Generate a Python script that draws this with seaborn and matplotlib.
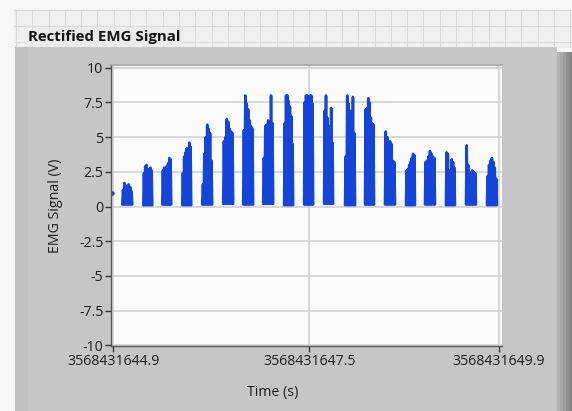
import numpy as np
import pandas as pd
import matplotlib
matplotlib.use("Agg")
import matplotlib.pyplot as plt
from matplotlib.patches import Rectangle
import seaborn as sns

sns.set_theme(style="white")
plt.rcParams["font.family"] = ["Open Sans", "DejaVu Sans"]

TITLE = "Rectified EMG Signal"
X_LABEL = "Time (s)"
Y_LABEL = "EMG Signal (V)"
# time axis in seconds after the first label
X_TICKS = [0.0, 2.54, 5.0]
X_TICK_LABELS = ["3568431644.9", "3568431647.5", "3568431649.9"]
Y_TICKS = [10, 7.5, 5, 2.5, 0, -2.5, -5, -7.5, -10]
Y_TICK_LABELS = ["10", "7.5", "5", "2.5", "0", "-2.5", "-5", "-7.5", "-10"]

# muscle bursts: start / end time (s) and the spike peaks of the rectified signal in each burst
burst_start = [0.117, 0.389, 0.635, 0.894, 1.153, 1.425, 1.684, 1.943, 2.215, 2.474,
               2.733, 3.005, 3.264, 3.523, 3.795, 4.041, 4.313, 4.573, 4.845]
burst_end = [0.246, 0.505, 0.751, 1.010, 1.282, 1.554, 1.813, 2.073, 2.332, 2.591,
             2.850, 3.135, 3.381, 3.653, 3.912, 4.171, 4.430, 4.702, 4.974]
burst_top = [
    [1.2, 1.7, 1.5, 1.3, 1.6, 1.4, 1.1],
    [2.4, 2.9, 3.0, 2.6, 2.7, 2.8, 2.6],
    [2.6, 2.8, 2.5, 2.9, 3.1, 3.5, 3.4],
    [2.4, 3.6, 3.9, 4.2, 3.8, 4.6, 4.3],
    [1.6, 3.8, 5.0, 5.9, 5.6, 5.3, 3.3],
    [4.7, 5.0, 6.3, 6.1, 5.6, 5.4, 5.3],
    [5.5, 8.0, 7.4, 7.0, 6.2, 5.8, 5.6],
    [3.5, 5.8, 5.9, 6.2, 5.6, 8.0, 6.0],
    [6.0, 8.0, 8.0, 7.6, 7.2, 6.5, 4.5],
    [7.5, 8.0, 8.0, 7.6, 8.0, 8.0, 7.4],
    [6.9, 8.0, 6.4, 5.5, 5.8, 7.1, 4.6],
    [3.6, 8.0, 7.4, 6.9, 5.8, 7.9, 5.3],
    [7.0, 7.1, 7.8, 7.5, 6.4, 6.0, 5.9],
    [5.4, 5.0, 4.4, 4.7, 4.5, 3.3, 3.2],
    [2.6, 2.7, 3.0, 3.2, 3.5, 3.8, 3.7],
    [3.2, 3.3, 3.6, 4.0, 3.8, 3.6, 3.5],
    [3.9, 3.8, 2.6, 2.5, 3.4, 3.2, 2.8],
    [4.4, 3.0, 2.5, 2.4, 2.6, 2.5, 2.4],
    [2.2, 3.0, 3.3, 3.5, 3.2, 2.8, 2.0],
]
burst_floor = [0.15, 0.1, 0.15, 0.1, 0.15, 0.2, 0.15, 0.2, 0.1, 0.15,
               0.2, 0.1, 0.15, 0.15, 0.1, 0.15, 0.1, 0.15, 0.1]
stray_t = [-0.02]
stray_v = [1.0]

BLUE = "#1545d8"
PANEL = "#c6c6c6"

# each burst drawn as a run of spikes: floor -> peak -> floor -> peak ...
rows = []
for i, (s, e, top) in enumerate(zip(burst_start, burst_end, burst_top)):
    fl = burst_floor[i]
    vals = [fl]
    for v in top:
        vals += [v, fl]
    for t, v in zip(np.linspace(s, e, len(vals)), vals):
        rows.append({"burst": i, "t": t, "v": v})
df = pd.DataFrame(rows)

W, H = 572, 411
fig = plt.figure(figsize=(W / 100, H / 100), dpi=100)
fig.patch.set_facecolor("#f7f7f7")


def box(x0, y0, x1, y1, color):
    fig.add_artist(Rectangle((x0 / W, 1 - y1 / H), (x1 - x0) / W, (y1 - y0) / H,
                             transform=fig.transFigure, facecolor=color,
                             edgecolor="none", zorder=0))


# front-panel grid strip
box(14, 10, W, 48, "#efefef")
for gx in np.arange(16, W, 16.3):
    box(gx, 10, gx + 1, 48, "#d9d9d9")
for gy in [10, 26, 42]:
    box(14, gy, W, gy + 1, "#d9d9d9")

# graph panel + shading on the right
box(15, 47, 557, H, PANEL)
box(15, 47, 28, H, "#c0c0c0")
for k, c in enumerate(["#b4b4b4", "#a8a8a8", "#9c9c9c", "#909090", "#868686"]):
    box(557 + k * 3, 52, 560 + k * 3 + 1, H, c)

fig.text(28 / W, 1 - 37 / H, TITLE, fontsize=10.8, fontweight="bold", color="#141414",
         va="center", ha="left",
         bbox=dict(facecolor="#ebebeb", edgecolor="none", pad=1.5))

ax = fig.add_axes([111 / W, 1 - 346 / H, (502 - 111) / W, (346 - 65) / H])
ax.set_facecolor("#fbfbfb")

sns.lineplot(data=df, x="t", y="v", units="burst", estimator=None, sort=False,
             color=BLUE, lw=1.9, ax=ax, legend=False)
ax.plot(stray_t, stray_v, "o", color=BLUE, ms=2.2)

ax.set_xlim(-0.03, 5.04)
ax.set_ylim(-10.05, 10.2)
ax.set_xticks(X_TICKS)
ax.set_xticklabels(X_TICK_LABELS)
ax.set_yticks(Y_TICKS)
ax.set_yticklabels(Y_TICK_LABELS)
ax.grid(True, color="#d2d2d2", lw=1.2)
ax.tick_params(direction="out", length=4, width=1, color="#333333",
               labelsize=10.2, labelcolor="#1a1a1a", pad=1.5)
ax.tick_params(axis="x", bottom=True)
ax.tick_params(axis="y", left=True)
for side in ["left", "bottom"]:
    ax.spines[side].set_color("#555555")
    ax.spines[side].set_linewidth(1)
ax.spines["top"].set_color("#a9a9a9")
ax.spines["right"].set_visible(False)

ax.set_xlabel(X_LABEL, fontsize=10.2, color="#1a1a1a")
ax.set_ylabel(Y_LABEL, fontsize=10.2, color="#1a1a1a")
ax.xaxis.set_label_coords(0.414, -0.14)
ax.yaxis.set_label_coords(-0.123, 0.5)

fig.savefig("out.png", dpi=100, facecolor=fig.get_facecolor())
